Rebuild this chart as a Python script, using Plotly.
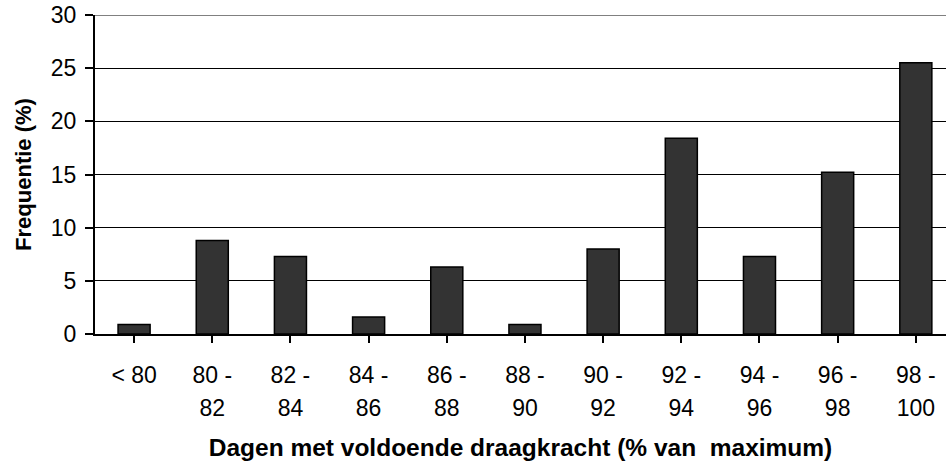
import plotly.graph_objects as go

# klassen (% van maximum) en frequentie (%)
categories = ["< 80", "80 -<br>82", "82 -<br>84", "84 -<br>86", "86 -<br>88",
              "88 -<br>90", "90 -<br>92", "92 -<br>94", "94 -<br>96",
              "96 -<br>98", "98 -<br>100"]
frequency = [0.9, 8.8, 7.3, 1.6, 6.3, 0.9, 8.0, 18.4, 7.3, 15.2, 25.5]
y_ticks = [0, 5, 10, 15, 20, 25, 30]

FONT = "Liberation Sans, Arial, sans-serif"


def _label(txt, size=23):
    # keep Excel-like wide line spacing: base font is larger than the glyphs
    return "<br>".join(f'<span style="font-size:{size}px">{part}</span>'
                       for part in txt.split("<br>"))


x_idx = list(range(len(categories)))

fig = go.Figure()
fig.add_trace(go.Bar(
    x=x_idx, y=frequency, width=0.41,
    marker=dict(color="#333333", line=dict(color="#000000", width=1.5)),
    showlegend=False, hoverinfo="y",
))

fig.update_layout(
    width=946, height=461,
    margin=dict(l=95, r=0, t=15, b=127),
    paper_bgcolor="white", plot_bgcolor="white",
    font=dict(family=FONT, color="black"),
    xaxis=dict(
        tickmode="array", tickvals=x_idx,
        ticktext=[_label(c) for c in categories],
        tickfont=dict(size=25),
        range=[-0.5, 10.386],
        showline=True, linecolor="black", linewidth=2,
        ticks="outside", ticklen=7, tickwidth=2, tickcolor="black",
        ticklabelstandoff=10,
        showgrid=False, zeroline=False,
        title=dict(text="<b>Dagen met voldoende draagkracht (% van\u00a0\u00a0maximum)</b>",
                   font=dict(size=24.5), standoff=19),
    ),
    yaxis=dict(
        range=[0, 30], tickvals=y_ticks,
        tickfont=dict(size=23),
        showline=True, linecolor="black", linewidth=2,
        ticks="outside", ticklen=8, tickwidth=2, tickcolor="black",
        ticklabelstandoff=4,
        showgrid=True, gridcolor="black", gridwidth=1,
        zeroline=False,
        title=dict(text="<b>Frequentie (%)</b>", font=dict(size=22), standoff=13),
    ),
    shapes=[dict(type="line", xref="paper", yref="y", x0=0, x1=1, y0=30, y1=30,
                 line=dict(color="#808080", width=2))],
)

fig.write_html("out.html", config={"displayModeBar": False},
               post_script="document.body.style.margin='0';")
